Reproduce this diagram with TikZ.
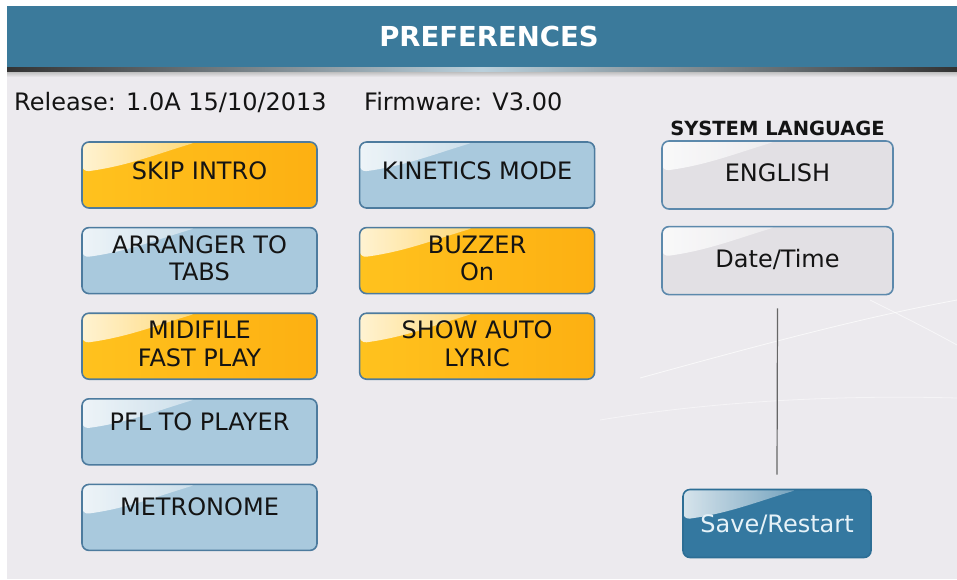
\documentclass[tikz,border=0pt]{standalone}
\usepackage{fontspec}
\setmainfont{DejaVu Sans}
\usetikzlibrary{positioning,calc}
\definecolor{bgcol}{HTML}{ECEAEE}
\definecolor{headblue}{HTML}{3B7A9B}
\definecolor{btnblue}{HTML}{A9C9DD}
\definecolor{btnedge}{HTML}{4D7B9E}
\definecolor{btnorangeL}{HTML}{FFC21E}
\definecolor{btnorangeR}{HTML}{FDB012}
\definecolor{btngrey}{HTML}{E2E0E4}
\definecolor{greyedge}{HTML}{5C89AC}
\definecolor{saveblue}{HTML}{3478A0}
\definecolor{saveedge}{HTML}{2D6E95}
\definecolor{savetext}{HTML}{E6F2F8}
\definecolor{btntext}{HTML}{141414}
\tikzset{gloss/.style={path picture={
  \shade[left color=white, right color=#1, opacity=.8]
    (path picture bounding box.north west) -- ++(115,0)
    .. controls +(-40,12) and +(45,-6) .. ([yshift=-30pt]path picture bounding box.north west) -- cycle;}}}

\begin{document}
\begin{tikzpicture}[x=1pt, y=-1pt, node distance=18pt and 41pt]

\tikzset{btn/.style={draw=btnedge,line width=1.6pt,rounded corners=7pt,minimum width=235pt,minimum height=66pt,inner sep=0pt,align=center,text=btntext,font=\fontsize{24}{27.5}\selectfont},
bluebtn/.style={btn,fill=btnblue,gloss=btnblue},
orangebtn/.style={btn,left color=btnorangeL,right color=btnorangeR,gloss=btnorangeL},
greybtn/.style={btn,draw=greyedge,fill=btngrey,minimum width=231pt,minimum height=68pt,text depth=4pt,gloss=btngrey},
savebtn/.style={btn,draw=saveedge,fill=saveblue,text=savetext,minimum width=188pt,minimum height=68pt,text depth=0pt,gloss=saveblue},
oneline/.style={text depth=9pt},twoline/.style={text depth=5pt},topline/.style={text depth=21pt}}

% Background
\useasboundingbox (0,0) rectangle (957,579);
\fill[white] (0,0) rectangle (957,579);
\fill[bgcol] (7,6) rectangle (957,579);
\draw[white,opacity=.7,line width=.8pt] (640,378) .. controls (760,345) and (860,318) .. (957,300);
\draw[white,opacity=.6,line width=.8pt] (870,300) .. controls (900,315) and (930,330) .. (957,345);
\draw[white,opacity=.5,line width=.8pt] (600,420) .. controls (720,400) and (850,395) .. (957,398);

% Header
\fill[headblue] (7,6) rectangle (957,67);
\shade[left color=black!80, right color=black!80, middle color=headblue!35] (7,67) rectangle (957,72);
\shade[top color=black!25, bottom color=bgcol] (7,72) rectangle (957,77);
\node[text=white,font=\bfseries\fontsize{27.5}{32}\selectfont] (title) at (489,36) {PREFERENCES};

% Info line
\node[anchor=base west,inner sep=0pt,font=\fontsize{24}{27.5}\selectfont,text=btntext] (release) at (14,110) {Release: 1.0A 15/10/2013};
\node[anchor=base west,inner sep=0pt,font=\fontsize{24}{27.5}\selectfont,text=btntext] (firmware) at (364,110) {Firmware: V3.00};

% Left columns
\node[orangebtn,oneline] (skip) at (199.5,175) {SKIP INTRO};
\node[bluebtn,twoline,below=of skip] (arranger) {ARRANGER TO\\TABS};
\node[orangebtn,twoline,below=of arranger] (midifile) {MIDIFILE\\FAST PLAY};
\node[bluebtn,topline,below=of midifile] (pfl) {PFL TO PLAYER};
\node[bluebtn,topline,below=of pfl] (metronome) {METRONOME};
\node[bluebtn,oneline,right=of skip] (kinetics) {KINETICS MODE};
\node[orangebtn,twoline,below=of kinetics] (buzzer) {BUZZER\\On};
\node[orangebtn,twoline,below=of buzzer] (showauto) {SHOW AUTO\\LYRIC};

% Language column
\node[anchor=base,inner sep=0pt,font=\bfseries\fontsize{19.5}{22}\selectfont,text=btntext] (syslang) at (777.5,135) {SYSTEM LANGUAGE};
\node[greybtn] (english) at (777.5,175) {ENGLISH};
\node[greybtn,below=16pt of english] (datetime) {Date/Time};
\node[savebtn] (save) at (777,523.5) {Save/Restart};
\draw[black!60,line width=1.2pt] ([yshift=-13pt]datetime.south) -- ([yshift=14pt]save.north);

\end{tikzpicture}
\end{document}
